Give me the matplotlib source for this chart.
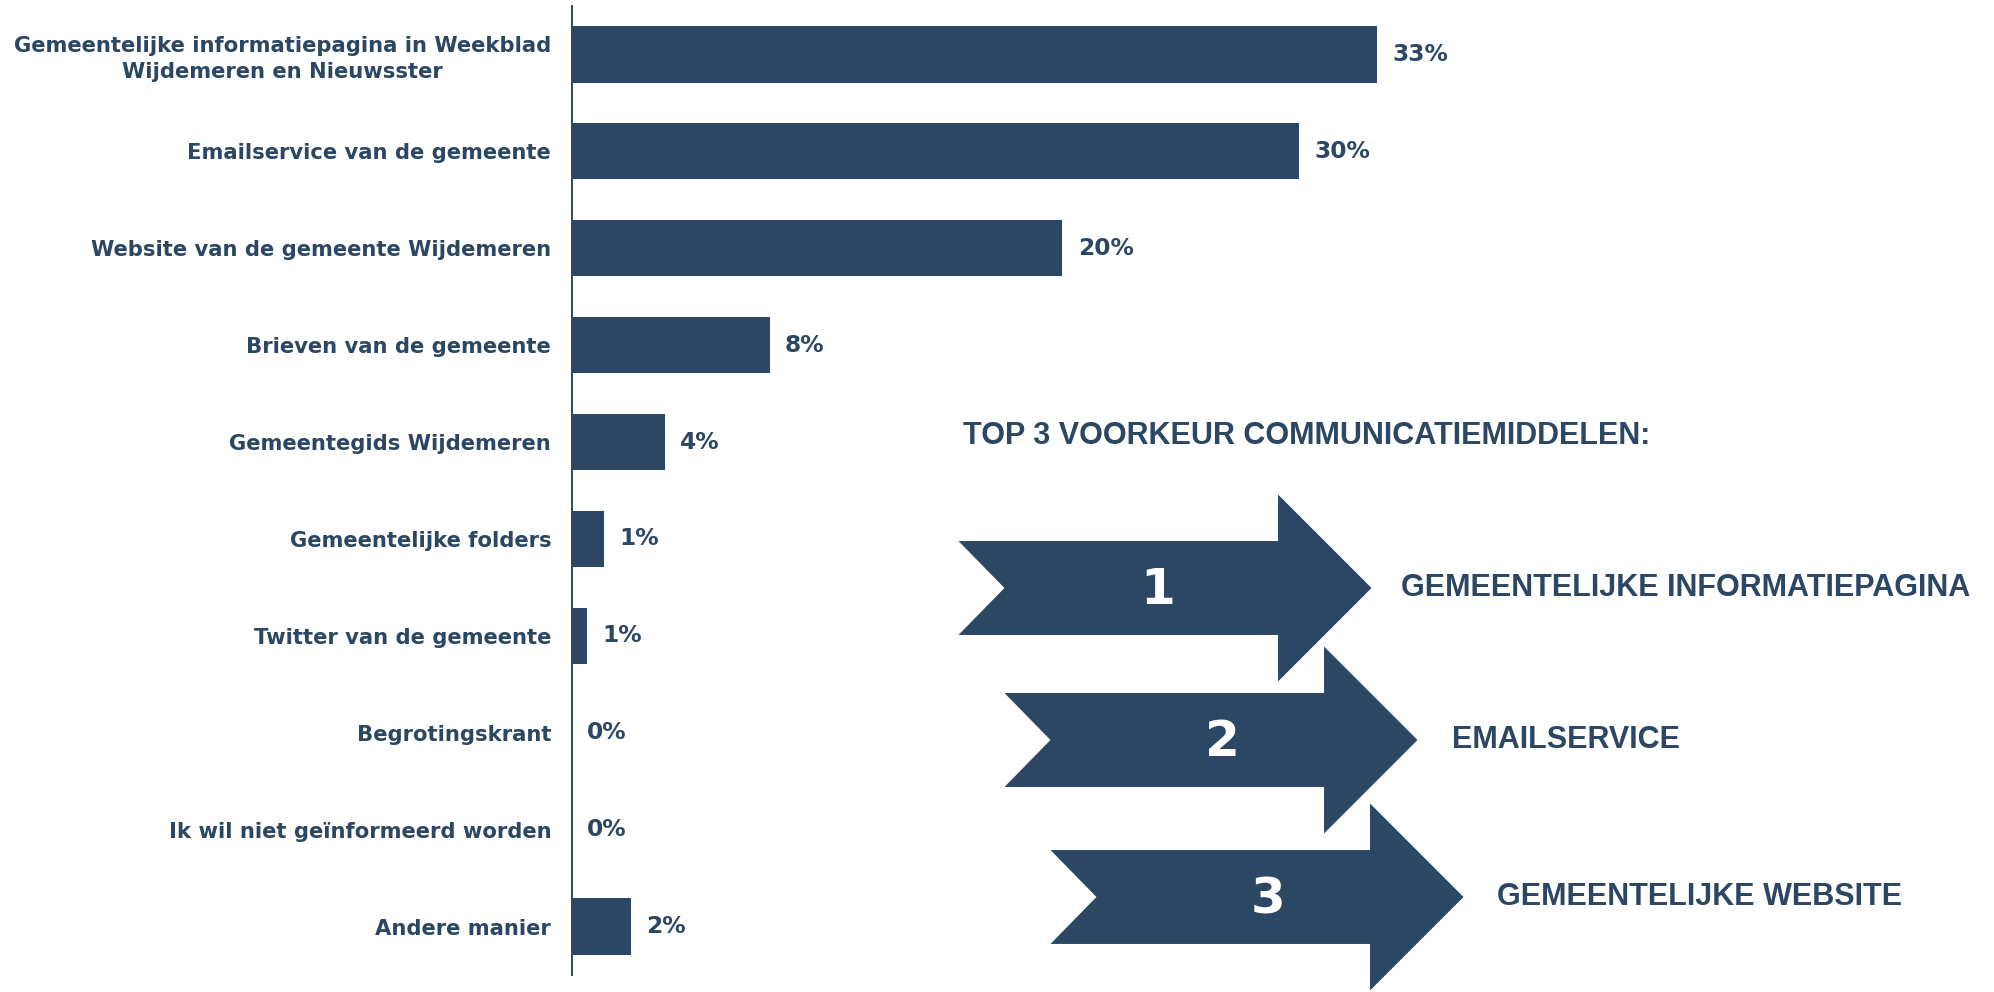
import matplotlib.pyplot as plt
from matplotlib.patches import Polygon
from matplotlib import font_manager as fm

categories = [
    "Gemeentelijke informatiepagina in Weekblad\nWijdemeren en Nieuwsster",
    "Emailservice van de gemeente",
    "Website van de gemeente Wijdemeren",
    "Brieven van de gemeente",
    "Gemeentegids Wijdemeren",
    "Gemeentelijke folders",
    "Twitter van de gemeente",
    "Begrotingskrant",
    "Ik wil niet geïnformeerd worden",
    "Andere manier",
]
values = [33.0, 29.8, 20.1, 8.1, 3.8, 1.3, 0.6, 0.0, 0.0, 2.4]

top_title = "TOP 3 VOORKEUR COMMUNICATIEMIDDELEN:"
top_ranks = ["1", "2", "3"]
top_names = ["GEMEENTELIJKE INFORMATIEPAGINA", "EMAILSERVICE", "GEMEENTELIJKE WEBSITE"]

NAVY = "#2c4763"
W, H = 1994, 992

plt.rcParams['font.family'] = ['DejaVu Sans']
fig = plt.figure(figsize=(W / 100, H / 100), dpi=100)

# bar chart
ax = fig.add_axes([572 / W, 1 - 975 / H, 1 - 572 / W, 969 / H])
ypos = list(range(len(categories)))
ax.barh(ypos, values, height=0.58, color=NAVY)
ax.set_ylim(len(categories) - 0.5, -0.5)
ax.set_xlim(0, (W - 572) / 24.4)
ax.set_yticks(ypos)
ax.set_yticklabels(categories, fontsize=15.2, fontweight='bold', color=NAVY,
                   multialignment='center', linespacing=1.35)
ax.tick_params(axis='y', length=0, pad=15)
ax.set_xticks([])
for s in ['top', 'right', 'bottom']:
    ax.spines[s].set_visible(False)
ax.spines['left'].set_color(NAVY)
ax.spines['left'].set_linewidth(1.4)
for y, v in zip(ypos, values):
    ax.annotate(f"{round(v)}%", (v, y), xytext=(11, 0), textcoords='offset points',
                va='center', ha='left', fontsize=16.8, fontweight='bold', color=NAVY)

# overlay for the top-3 graphic, pixel coordinates
ov = fig.add_axes([0, 0, 1, 1])
ov.set_xlim(0, W)
ov.set_ylim(H, 0)
ov.axis('off')
ov.patch.set_visible(False)

narrow = 'Liberation Sans'
narrow_size = 22
try:
    fm.findfont(fm.FontProperties(family='Liberation Sans Narrow', weight='bold'),
                fallback_to_default=False)
    narrow = 'Liberation Sans Narrow'
    narrow_size = 26
except Exception:
    pass

ov.text(963, 436, top_title, fontsize=narrow_size, fontweight='bold', color=NAVY,
        family=narrow, va='center', ha='left')

def arrow(x0, yc):
    notch, body, head_w, head_h, tail_h = 47, 321, 96, 96, 48
    pts = [(x0, yc - tail_h), (x0 + body, yc - tail_h), (x0 + body, yc - head_h),
           (x0 + body + head_w, yc), (x0 + body, yc + head_h), (x0 + body, yc + tail_h),
           (x0, yc + tail_h), (x0 + notch, yc)]
    ov.add_patch(Polygon(pts, closed=True, facecolor=NAVY, edgecolor='white', lw=1.5))

arrow_x = [956, 1002, 1048]
arrow_y = [588, 740, 897]
num_x = [1158, 1222, 1268]
name_x = [1401, 1452, 1497]
for i in range(3):
    arrow(arrow_x[i], arrow_y[i])
    ov.text(num_x[i], arrow_y[i] + 2, top_ranks[i], fontsize=36, fontweight='bold',
            color='white', ha='center', va='center')
    ov.text(name_x[i], arrow_y[i], top_names[i], fontsize=narrow_size, fontweight='bold',
            color=NAVY, family=narrow, ha='left', va='center')

fig.savefig('out.png', dpi=100, facecolor='white')
